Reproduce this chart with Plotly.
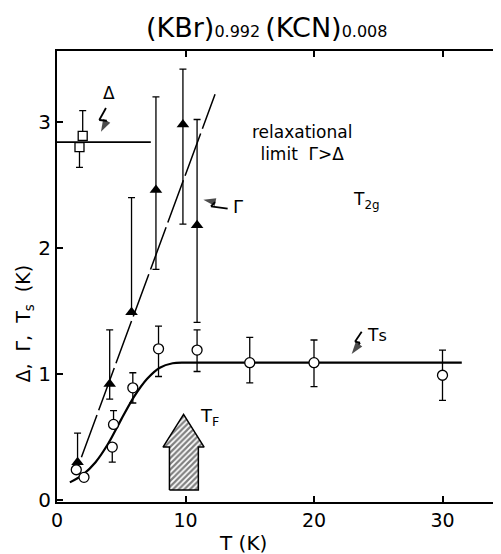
import plotly.graph_objects as go

# ---------------- data ----------------
# Gamma (filled triangles)
gamma_T = [1.6, 4.1, 5.8, 7.7, 9.8, 10.9]
gamma_val = [0.30, 0.92, 1.49, 2.46, 2.98, 2.18]
gamma_err_plus = [0.23, 0.43, 0.91, 0.74, 0.44, 0.84]
gamma_err_minus = [0.0, 0.12, 0.0, 0.63, 0.79, 0.77]

# Ts (open circles)
ts_T = [1.5, 2.1, 4.4, 4.3, 5.9, 7.9, 10.9, 15.0, 20.0, 30.0]
ts_val = [0.24, 0.18, 0.60, 0.42, 0.89, 1.20, 1.19, 1.09, 1.09, 0.99]
ts_err_plus = [0.0, 0.0, 0.11, 0.0, 0.12, 0.18, 0.16, 0.20, 0.18, 0.20]
ts_err_minus = [0.0, 0.0, 0.0, 0.12, 0.12, 0.22, 0.17, 0.16, 0.19, 0.20]

# Delta (open squares)
delta_T = [1.75, 2.0]
delta_val = [2.80, 2.89]
delta_err_plus = [0.0, 0.20]
delta_err_minus = [0.16, 0.0]

# drawn guide lines
delta_line_T = [0.0, 7.3]
delta_line_val = [2.84, 2.84]
gamma_line_T = [1.9, 12.3]
gamma_line_val = [0.34, 3.22]
ts_curve_T = [1.0, 2.0, 3.0, 4.0, 5.0, 6.0, 7.0, 8.0, 9.0, 10.0, 20.0, 31.5]
ts_curve_val = [0.14, 0.20, 0.30, 0.45, 0.64, 0.82, 0.96, 1.05, 1.085, 1.09, 1.09, 1.09]

# T_F hatched arrow outline
arrow_T = [8.75, 11.0, 11.0, 11.45, 9.85, 8.25, 8.75, 8.75]
arrow_val = [0.08, 0.08, 0.42, 0.42, 0.68, 0.42, 0.42, 0.08]

# lightning-bolt pointers (last point is the arrow tip)
bolt_delta = ([3.81, 3.29, 3.87, 3.42], [3.111, 3.016, 3.010, 2.923])
bolt_gamma = ([13.28, 11.98, 12.30, 11.39], [2.312, 2.331, 2.365, 2.383])
bolt_ts = ([23.71, 23.19, 23.58, 22.93], [1.336, 1.256, 1.248, 1.159])

x_ticks = [0, 10, 20, 30]
y_ticks = [0, 1, 2, 3]

FONT = "DejaVu Sans"
BLACK = "black"

fig = go.Figure()

# guide lines
fig.add_trace(go.Scatter(x=delta_line_T, y=delta_line_val, mode="lines",
                         line=dict(color=BLACK, width=1.8), hoverinfo="skip"))
fig.add_trace(go.Scatter(x=gamma_line_T, y=gamma_line_val, mode="lines",
                         line=dict(color=BLACK, width=1.5, dash="45px,5px"), hoverinfo="skip"))
fig.add_trace(go.Scatter(x=ts_curve_T, y=ts_curve_val, mode="lines",
                         line=dict(color=BLACK, width=2.2, shape="spline", smoothing=0.8),
                         hoverinfo="skip"))

# hatched arrow T_F
fig.add_trace(go.Scatter(x=arrow_T, y=arrow_val, mode="lines", fill="toself",
                         fillcolor="white",
                         fillpattern=dict(shape="/", fgcolor=BLACK, bgcolor="white",
                                          size=4, solidity=0.55),
                         line=dict(color=BLACK, width=1.5), hoverinfo="skip"))

# bolts with arrowheads (marker arrow oriented along last segment)
for xs, ys in (bolt_delta, bolt_gamma, bolt_ts):
    n = len(xs)
    fig.add_trace(go.Scatter(
        x=xs, y=ys, mode="lines+markers",
        line=dict(color=BLACK, width=1.8),
        marker=dict(symbol=["circle"] * (n - 1) + ["arrow"],
                    size=[0] * (n - 1) + [13], color=BLACK,
                    angleref="previous", line=dict(width=0)),
        hoverinfo="skip"))

# data series
err_style = dict(color=BLACK, thickness=1.3, width=3.5)
fig.add_trace(go.Scatter(
    x=delta_T, y=delta_val, mode="markers",
    marker=dict(symbol="square", size=9, color="white", line=dict(color=BLACK, width=1.3)),
    error_y=dict(type="data", symmetric=False, array=delta_err_plus,
                 arrayminus=delta_err_minus, **err_style)))
fig.add_trace(go.Scatter(
    x=gamma_T, y=gamma_val, mode="markers",
    marker=dict(symbol="triangle-up", size=11, color=BLACK, line=dict(color=BLACK, width=0)),
    error_y=dict(type="data", symmetric=False, array=gamma_err_plus,
                 arrayminus=gamma_err_minus, **err_style)))
fig.add_trace(go.Scatter(
    x=ts_T, y=ts_val, mode="markers",
    marker=dict(symbol="circle", size=10, color="white", line=dict(color=BLACK, width=1.3)),
    error_y=dict(type="data", symmetric=False, array=ts_err_plus,
                 arrayminus=ts_err_minus, **err_style)))

annotations = []

def txt(x, y, s, size, **kw):
    d = dict(x=x, y=y, xref="x", yref="y", text=s, showarrow=False,
             font=dict(family=FONT, size=size, color=BLACK))
    d.update(kw)
    annotations.append(d)

txt(4.07, 3.23, "Δ", 17)
txt(14.05, 2.33, "Γ", 18)
txt(24.9, 1.31, "T<span style='font-size:16px'>s</span>", 17)
txt(11.9, 0.66, "T<sub>F</sub>", 18)
txt(24.1, 2.38, "T<sub>2g</sub>", 17)
txt(19.1, 2.83, "relaxational<br>limit  Γ>Δ", 17)

# title (paper coords relative to plot area)
annotations.append(dict(
    x=(266 - 57) / 444, y=1 + (51 - 28) / 451, xref="paper", yref="paper",
    text="(KBr)<span style='font-size:16px'>0.992 </span>(KCN)<span style='font-size:16px'>0.008</span>",
    showarrow=False, xanchor="center", yanchor="middle",
    font=dict(family=FONT, size=27, color=BLACK)))
# axis titles
annotations.append(dict(
    x=(25 - 57) / 444, y=1.40, xref="paper", yref="y",
    text="Δ,  Γ,  T<sub>s</sub>  (K)", textangle=-90, showarrow=False,
    xanchor="center", yanchor="middle", font=dict(family=FONT, size=19, color=BLACK)))
annotations.append(dict(
    x=14.5, y=-(543 - 502) / 451, xref="x", yref="paper",
    text="T (K)", showarrow=False, xanchor="center", yanchor="middle",
    font=dict(family=FONT, size=20, color=BLACK)))

# the page body adds an 8px offset, so the figure is 8px smaller and shifted
fig.update_layout(
    width=493, height=546,
    margin=dict(l=49, r=0, t=43, b=52, autoexpand=False),
    paper_bgcolor="white", plot_bgcolor="white",
    showlegend=False,
    annotations=annotations,
    xaxis=dict(range=[0, 444 / 12.85], tickvals=x_ticks, ticktext=[str(v) for v in x_ticks],
               ticks="inside", ticklen=6, tickwidth=1.5, tickcolor=BLACK,
               showline=True, linecolor=BLACK, linewidth=1.8, mirror="ticks",
               showgrid=False, zeroline=False, automargin=False,
               tickfont=dict(family=FONT, size=19, color=BLACK)),
    yaxis=dict(range=[-2 / 126, 449 / 126], tickvals=y_ticks, ticktext=[str(v) for v in y_ticks],
               ticks="inside", ticklen=6, tickwidth=1.5, tickcolor=BLACK,
               showline=True, linecolor=BLACK, linewidth=1.8, mirror=False,
               showgrid=False, zeroline=False, automargin=False,
               tickfont=dict(family=FONT, size=20, color=BLACK)),
)

fig.write_html("out.html")
